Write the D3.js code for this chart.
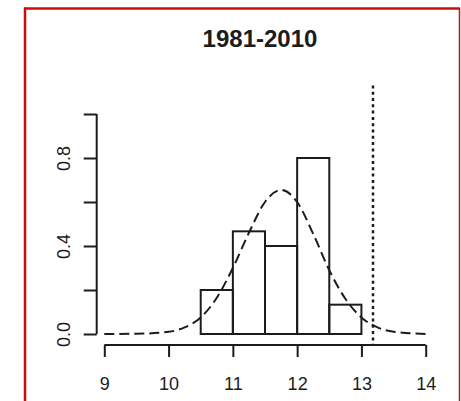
<!DOCTYPE html>
<html lang="en">
<head>
    <meta charset="UTF-8">
    <title>1981-2010</title>
    <style>
        body {
            margin: 0;
            background: #fff;
        }
        svg {
            display: block;
            font-family: "Liberation Sans", Arial, sans-serif;
        }
    </style>
</head>
<body>
    <div id="chart"></div>

    <script src="https://d3js.org/d3.v7.min.js"></script>
    <script>
        const title = '1981-2010'

        // histogram bins (density scale)
        const binStarts = [10.5, 11, 11.5, 12, 12.5]
        const binWidth = 0.5
        const binDensity = [0.2, 0.4667, 0.4, 0.8, 0.1333]

        // fitted density curve
        const curveX = [9, 9.5, 10, 10.25, 10.5, 10.75, 11, 11.25, 11.5, 11.75, 12, 12.25, 12.5, 12.75, 13, 13.25, 13.5, 14]
        const curveY = [0, 0.001, 0.01, 0.03, 0.075, 0.165, 0.3, 0.46, 0.6, 0.655, 0.6, 0.455, 0.29, 0.16, 0.075, 0.03, 0.01, 0]

        // reference line
        const refValue = 13.18

        const xTicks = [9, 10, 11, 12, 13, 14]
        const yTicks = [0, 0.2, 0.4, 0.6, 0.8, 1.0]
        const yTickLabels = ['0.0', '', '0.4', '', '0.8', '']

        const width = 461
        const height = 401
        const ink = '#1c1c1c'

        const x = d3.scaleLinear().domain([9, 14]).range([104.3, 425.7])
        const y = d3.scaleLinear().domain([0, 1]).range([334, 114])
        // plot region in data units (R style extension)
        const plotTop = 1.13
        const plotBottom = -0.05

        const svg = d3.select('#chart')
            .append('svg')
            .attr('width', width)
            .attr('height', height)

        // red frame
        const frame = svg.append('g').attr('stroke', '#cc0d0d')
        frame.append('line').attr('x1', 25).attr('x2', 25).attr('y1', 7.5).attr('y2', height)
            .attr('stroke-width', 2.5)
        frame.append('line').attr('x1', 24).attr('x2', 460).attr('y1', 8.5).attr('y2', 8.5)
            .attr('stroke-width', 2.5)
        frame.append('line').attr('x1', 459.5).attr('x2', 459.5).attr('y1', 8).attr('y2', height)
            .attr('stroke-width', 1.5)

        svg.append('text')
            .text(title)
            .attr('x', 260)
            .attr('y', 46.5)
            .attr('text-anchor', 'middle')
            .attr('fill', ink)
            .style('font-size', '24px')
            .style('font-weight', 'bold')

        // bars
        svg.append('g')
            .selectAll('rect')
            .data(binStarts)
            .join('rect')
            .attr('x', d => x(d))
            .attr('width', d => x(d + binWidth) - x(d))
            .attr('y', (d, i) => y(binDensity[i]))
            .attr('height', (d, i) => y(0) - y(binDensity[i]))
            .attr('fill', 'none')
            .attr('stroke', ink)
            .attr('stroke-width', 2)

        // density curve
        const line = d3.line()
            .x(d => x(d[0]))
            .y(d => y(d[1]))
            .curve(d3.curveMonotoneX)

        svg.append('path')
            .datum(d3.zip(curveX, curveY))
            .attr('d', line)
            .attr('fill', 'none')
            .attr('stroke', ink)
            .attr('stroke-width', 2)
            .attr('stroke-dasharray', '10,5')

        // dotted reference line
        svg.append('line')
            .attr('x1', Math.round(x(refValue)))
            .attr('x2', Math.round(x(refValue)))
            .attr('y1', y(plotTop))
            .attr('y2', y(plotBottom))
            .attr('stroke', ink)
            .attr('stroke-width', 2.5)
            .attr('stroke-dasharray', '3,3.3')

        // x axis
        const xAxisY = y(plotBottom)
        const xAxis = svg.append('g')
            .attr('transform', `translate(0, ${xAxisY})`)
            .call(d3.axisBottom(x).tickValues(xTicks).tickFormat(d3.format('d')).tickSize(12).tickSizeOuter(0))
        xAxis.select('.domain').attr('stroke', ink).attr('stroke-width', 2)
            .attr('d', `M${x(9)},0H${x(14)}`)
        xAxis.selectAll('.tick line').attr('stroke', ink).attr('stroke-width', 2)
        xAxis.selectAll('.tick text')
            .attr('fill', ink)
            .attr('y', 0)
            .attr('dy', 0)
            .attr('transform', 'translate(0, 45)')
            .style('font-size', '18px')
            .style('font-family', '"Liberation Sans", Arial, sans-serif')

        // y axis
        const yAxis = svg.append('g')
            .attr('transform', `translate(${x(9) - 7.6}, 0)`)
            .call(d3.axisLeft(y).tickValues(yTicks).tickFormat((d, i) => yTickLabels[i]).tickSize(13).tickSizeOuter(0))
        yAxis.select('.domain').attr('stroke', ink).attr('stroke-width', 2)
            .attr('d', `M0,${y(1)}V${y(0)}`)
        yAxis.selectAll('.tick line').attr('stroke', ink).attr('stroke-width', 2)
        yAxis.selectAll('.tick text')
            .attr('fill', ink)
            .attr('x', 0)
            .attr('dy', 0)
            .attr('text-anchor', 'middle')
            .attr('transform', 'translate(-26.5, 0) rotate(-90)')
            .style('font-size', '18px')
            .style('font-family', '"Liberation Sans", Arial, sans-serif')
    </script>
</body>
</html>
